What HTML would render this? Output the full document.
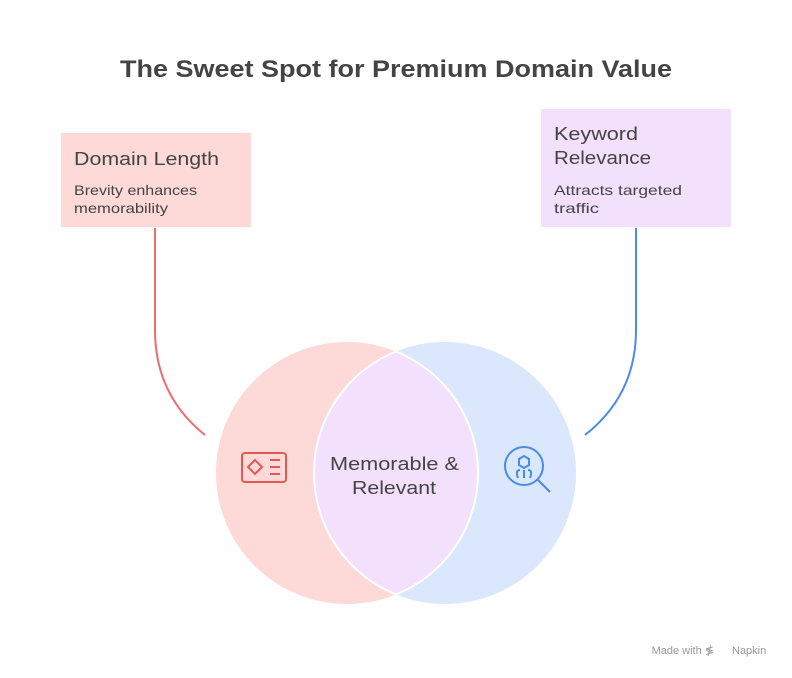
<!DOCTYPE html>
<html><head><style>
body{margin:0;background:#fff;width:792px;height:678px;overflow:hidden;font-family:"Liberation Sans",sans-serif;}
</style></head><body>
<svg width="792" height="678" xmlns="http://www.w3.org/2000/svg" style="position:absolute;left:0;top:0">
<text x="120" y="77" textLength="552" lengthAdjust="spacingAndGlyphs" font-family="Liberation Sans" font-weight="bold" font-size="24" fill="#444">The Sweet Spot for Premium Domain Value</text>
<rect x="61" y="133" width="190" height="94" fill="#fdd9d7"/>
<text x="74" y="165" textLength="145" lengthAdjust="spacingAndGlyphs" font-family="Liberation Sans" font-size="18" fill="#444">Domain Length</text>
<text x="74" y="195" textLength="123" lengthAdjust="spacingAndGlyphs" font-family="Liberation Sans" font-size="14" fill="#444">Brevity enhances</text>
<text x="74" y="213" textLength="94" lengthAdjust="spacingAndGlyphs" font-family="Liberation Sans" font-size="14" fill="#444">memorability</text>
<rect x="541" y="109" width="190" height="118" fill="#f3e0fc"/>
<text x="554" y="140" textLength="84" lengthAdjust="spacingAndGlyphs" font-family="Liberation Sans" font-size="18" fill="#444">Keyword</text>
<text x="554" y="164" textLength="97" lengthAdjust="spacingAndGlyphs" font-family="Liberation Sans" font-size="18" fill="#444">Relevance</text>
<text x="554" y="195" textLength="128" lengthAdjust="spacingAndGlyphs" font-family="Liberation Sans" font-size="14" fill="#444">Attracts targeted</text>
<text x="554" y="213" textLength="45" lengthAdjust="spacingAndGlyphs" font-family="Liberation Sans" font-size="14" fill="#444">traffic</text>
<path d="M155 228 L155 330 Q155 395 205 435" fill="none" stroke="#f26b6b" stroke-width="2"/>
<path d="M636 228 L636 330 Q636 395 585 435" fill="none" stroke="#4a8be8" stroke-width="2"/>
<circle cx="347" cy="473" r="131" fill="#fdd9d7"/>
<circle cx="445" cy="473" r="131" fill="#dbe7fc"/>
<path d="M396 351.5 A131 131 0 0 1 396 594.5 A131 131 0 0 1 396 351.5 Z" fill="#f3e0fc" stroke="#fff" stroke-width="2"/>
<text x="330" y="470" textLength="129" lengthAdjust="spacingAndGlyphs" font-family="Liberation Sans" font-size="18" fill="#444">Memorable &amp;</text>
<text x="352" y="494" textLength="84" lengthAdjust="spacingAndGlyphs" font-family="Liberation Sans" font-size="18" fill="#444">Relevant</text>
<g fill="none" stroke="#e05a55" stroke-width="2">
<rect x="242" y="453" width="44" height="29" rx="3"/>
<path d="M248 467 L255 460 L262 467 L255 474 Z"/>
<path d="M270 460 H280 M270 467 H280 M270 474 H280"/>
</g>
<g fill="none" stroke="#4a8be8" stroke-width="2">
<circle cx="524" cy="466" r="19"/>
<path d="M538 480 L550 492"/>
<path d="M519 459 L524 456 L529 459 L529 465 L524 468 L519 465 Z"/>
<path d="M518 478 Q515 470 520 470 M530 478 Q533 470 528 470 M524 470 V478"/>
</g>
<text x="714" y="654" text-anchor="end" font-family="Liberation Sans" font-size="11" fill="#999">Made with ≸</text>
<text x="732" y="654" font-family="Liberation Sans" font-size="11" fill="#999">Napkin</text>
</svg>
</body></html>
